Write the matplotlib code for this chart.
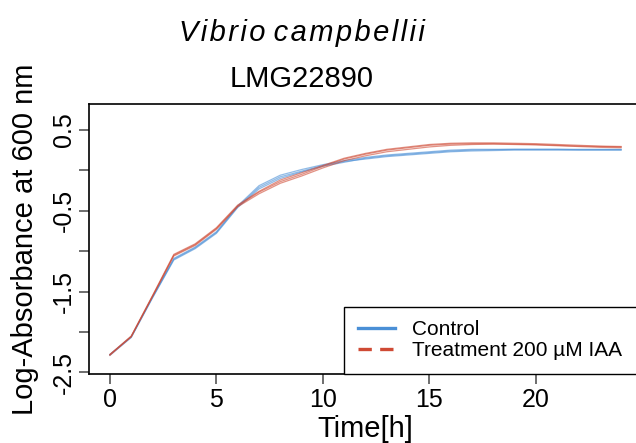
import matplotlib
matplotlib.use('Agg')
import matplotlib.pyplot as plt
from matplotlib.lines import Line2D

plt.rcParams['font.family'] = ['Liberation Sans', 'DejaVu Sans']

# ── Data ───────────────────────────────────────────────────────────────
time_h = list(range(0, 25))

control_reps = [
    [-2.28, -2.06, -1.57, -1.10, -0.96, -0.77, -0.45, -0.21, -0.08, -0.01, 0.06, 0.11, 0.14,
     0.17, 0.19, 0.21, 0.23, 0.24, 0.245, 0.25, 0.25, 0.25, 0.25, 0.25, 0.25],
    [-2.28, -2.06, -1.57, -1.09, -0.95, -0.76, -0.44, -0.19, -0.06, 0.01, 0.07, 0.12, 0.16,
     0.19, 0.21, 0.23, 0.25, 0.26, 0.26, 0.26, 0.26, 0.26, 0.26, 0.26, 0.26],
    [-2.29, -2.07, -1.58, -1.11, -0.97, -0.78, -0.46, -0.23, -0.10, -0.02, 0.05, 0.10, 0.15,
     0.18, 0.20, 0.22, 0.24, 0.25, 0.255, 0.26, 0.26, 0.26, 0.255, 0.255, 0.255],
]

treatment_reps = [
    [-2.28, -2.06, -1.56, -1.05, -0.92, -0.72, -0.44, -0.27, -0.14, -0.05, 0.05, 0.14, 0.20,
     0.25, 0.28, 0.31, 0.325, 0.33, 0.33, 0.325, 0.32, 0.31, 0.30, 0.295, 0.29],
    [-2.28, -2.05, -1.55, -1.04, -0.91, -0.71, -0.43, -0.26, -0.12, -0.03, 0.06, 0.15, 0.21,
     0.26, 0.29, 0.32, 0.335, 0.34, 0.34, 0.335, 0.33, 0.32, 0.31, 0.30, 0.295],
    [-2.29, -2.06, -1.56, -1.06, -0.93, -0.73, -0.45, -0.29, -0.16, -0.07, 0.03, 0.12, 0.18,
     0.23, 0.26, 0.29, 0.31, 0.32, 0.325, 0.32, 0.315, 0.305, 0.295, 0.285, 0.28],
]

y_ticks = [-2.5, -2.0, -1.5, -1.0, -0.5, 0.0, 0.5]
y_labels = ['-2.5', '', '-1.5', '', '-0.5', '', '0.5']
x_ticks = [0, 5, 10, 15, 20]

BLUE = '#4a8fd6'
RED = '#cf4a34'
TICK = '#555555'

fig = plt.figure(figsize=(6.36, 4.43), dpi=100)
ax = fig.add_axes([0.1407, 0.156, 0.868, 0.609])

for rep in control_reps:
    ax.plot(time_h, rep, color=BLUE, linewidth=0.9, alpha=0.6)
for rep in treatment_reps:
    ax.plot(time_h, rep, color=RED, linewidth=0.9, alpha=0.6)

ax.set_xlim(-0.96, 24.96)
ax.set_ylim(-2.52, 0.82)

ax.set_xticks(x_ticks)
ax.set_xticklabels([str(t) for t in x_ticks], fontsize=18)
ax.set_yticks(y_ticks)
ax.set_yticklabels(y_labels, fontsize=18, rotation=90, va='center')
ax.tick_params(axis='both', length=7, width=1.2, color=TICK, pad=3)

for spine in ax.spines.values():
    spine.set_linewidth(1.2)
    spine.set_color('black')

ax.set_xlabel('Time[h]', fontsize=21, labelpad=2)
ax.set_ylabel('Log-Absorbance at 600 nm', fontsize=21, labelpad=9)

# R draws the italic species name with wide letter spacing
species = '\u200a'.join('Vibrio') + ' ' + '\u200a'.join('campbellii')
fig.text(0.475, 0.925, species, fontsize=21, style='italic',
         ha='center', va='center')
fig.text(0.475, 0.822, 'LMG22890', fontsize=21, ha='center', va='center')

handles = [Line2D([], [], color=BLUE, linewidth=2.4),
           Line2D([], [], color=RED, linewidth=2.4, linestyle=(0, (4, 2.5)))]
leg = ax.legend(handles, ['Control', 'Treatment 200 µM IAA'],
                loc='lower left', bbox_to_anchor=(0.461, 0.0, 0.539, 0.3),
                mode='expand', borderaxespad=0, fontsize=15,
                handlelength=1.8, handletextpad=0.8, labelspacing=0.1,
                borderpad=0.65, fancybox=False, edgecolor='black',
                framealpha=1)
leg.get_frame().set_linewidth(1.0)

fig.savefig('out.png', dpi=100)
